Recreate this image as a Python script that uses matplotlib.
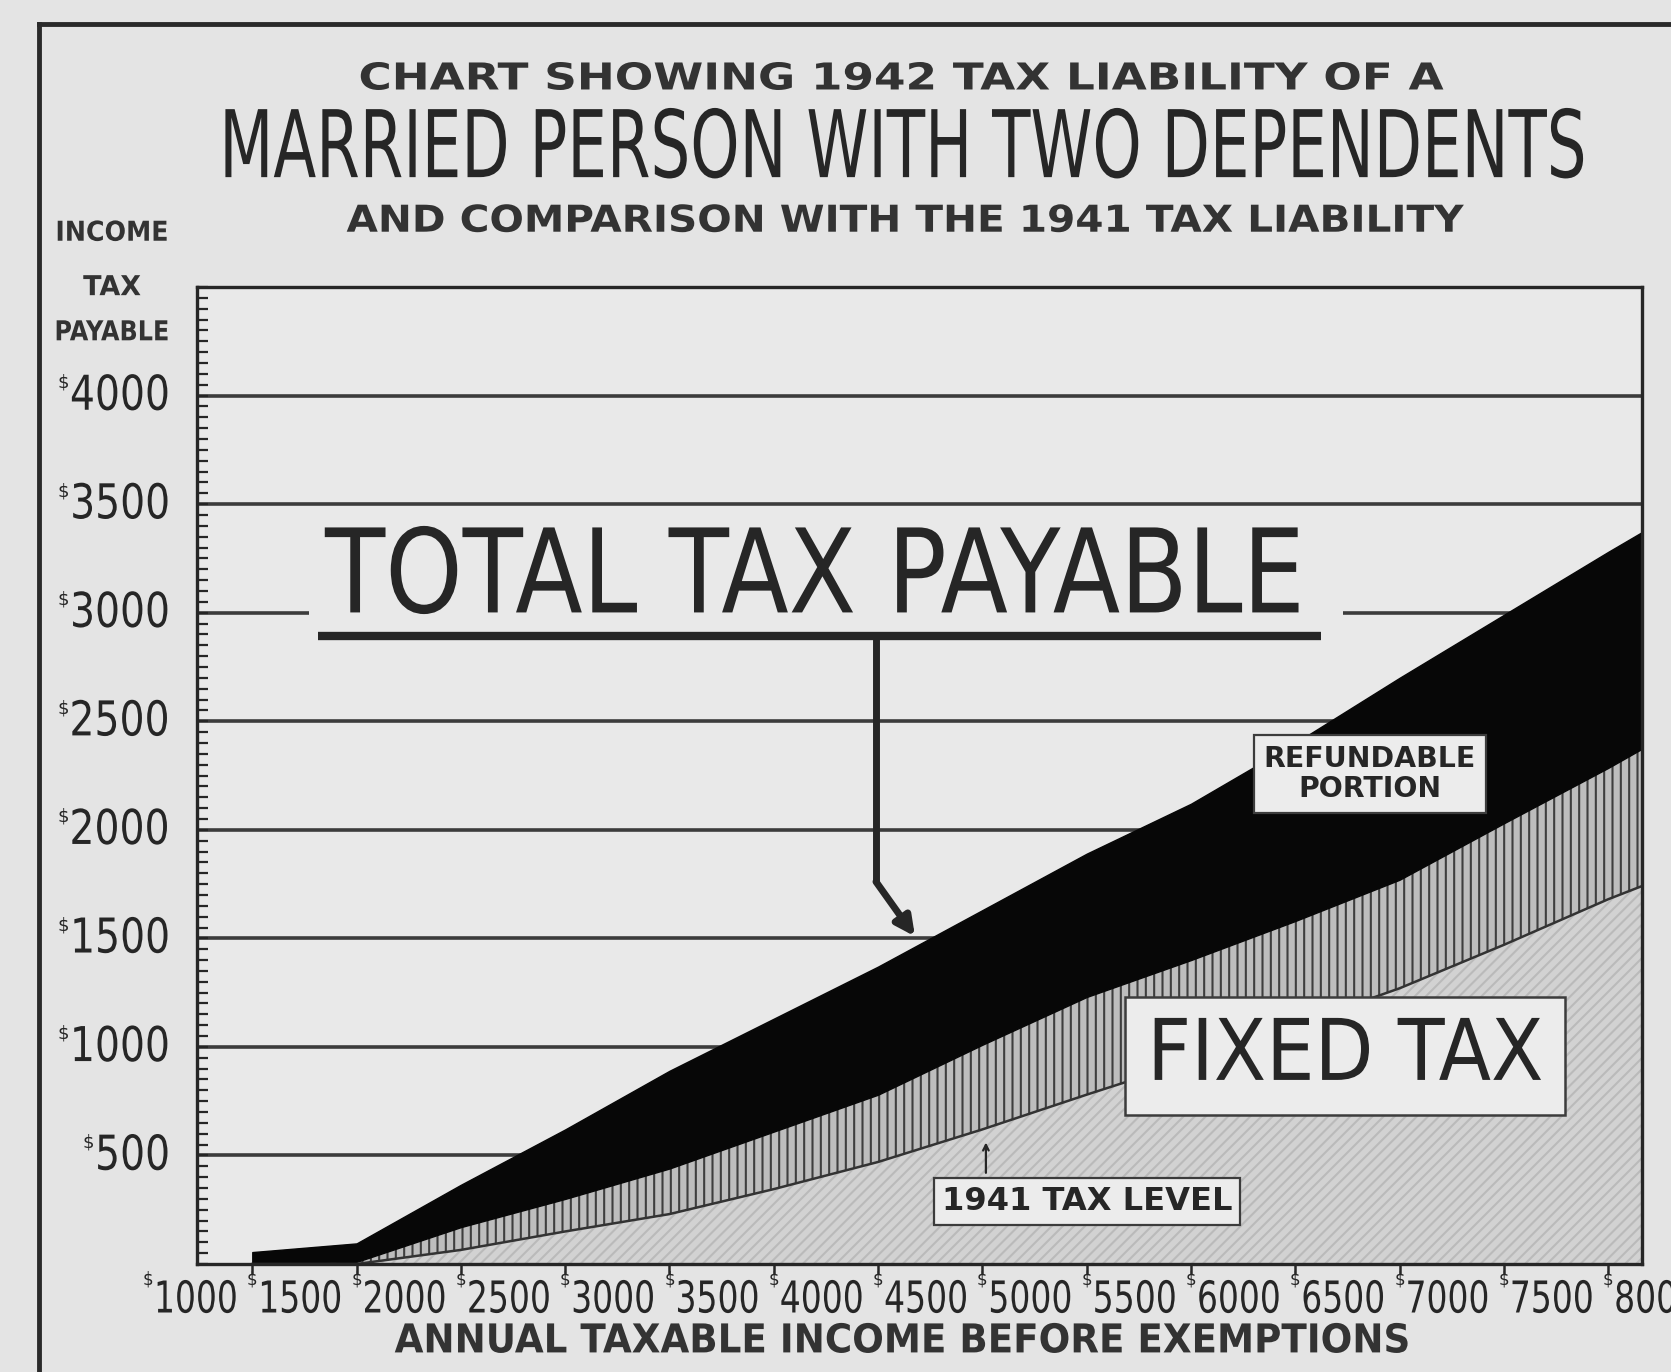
import numpy as np
import matplotlib
matplotlib.use("Agg")
import matplotlib.pyplot as plt
from matplotlib import transforms, patheffects
from matplotlib.lines import Line2D
from matplotlib.patches import Rectangle

# values (dollars)
income = [1500, 2000, 2500, 3000, 3500, 4000, 4500, 5000, 5500, 6000, 6500, 7000, 7500, 8000, 8160]
total_tax = [55, 95, 365, 620, 890, 1130, 1370, 1630, 1890, 2120, 2400, 2700, 2990, 3280, 3370]
fixed_tax = [0, 10, 170, 300, 440, 610, 780, 1010, 1230, 1400, 1580, 1770, 2030, 2285, 2372]
tax_1941 = [0, 0, 65, 150, 230, 345, 470, 620, 780, 935, 1100, 1270, 1470, 1680, 1740]

x_ticks = [1000, 1500, 2000, 2500, 3000, 3500, 4000, 4500, 5000, 5500, 6000, 6500, 7000, 7500, 8000]
x_labels = ["1000", "1500", "2000", "2500", "3000", "3500", "4000", "4500",
            "5000", "5500", "6000", "6500", "7000", "7500", "8000"]
y_ticks = [500, 1000, 1500, 2000, 2500, 3000, 3500, 4000]
y_labels = ["500", "1000", "1500", "2000", "2500", "3000", "3500", "4000"]

BG = "#e4e4e4"
PLOT_BG = "#e9e9e9"
BOX_BG = "#ececec"
INK = "#262626"
FONT = "DejaVu Sans"
PX = 100 / 72  # pixels per point
CAP = 0.729    # cap height of DejaVu Sans, in em


class Tall(patheffects.AbstractPathEffect):
    # stretch glyphs vertically, to get the tall condensed look of the original type
    def __init__(self, sy, anchor="center"):
        super().__init__()
        self.sy = sy
        self.anchor = anchor

    def draw_path(self, renderer, gc, tpath, affine, rgbFace=None):
        ext = tpath.transformed(affine).get_extents()
        cy = ext.y0 if self.anchor == "bottom" else 0.5 * (ext.y0 + ext.y1)
        st = transforms.Affine2D().translate(0, -cy).scale(1, self.sy).translate(0, cy)
        renderer.draw_path(gc, tpath, affine + st, rgbFace)


plt.rcParams["hatch.linewidth"] = 1.5

fig = plt.figure(figsize=(16.71, 13.72), dpi=100, facecolor=BG)
rend = fig.canvas.get_renderer()


def shape(t, width_px, cap_px=None, anchor="center"):
    # font size from the width in the scan, then stretch to its letter height
    w = t.get_window_extent(renderer=rend).width
    t.set_fontsize(t.get_fontsize() * width_px / w)
    if cap_px:
        t.set_path_effects([Tall(cap_px / (t.get_fontsize() * PX * CAP), anchor)])


ax = fig.add_axes([0.1179, 0.0787, 0.8647, 0.7121], facecolor=PLOT_BG)
ax.set_xlim(1235, 8162)
ax.set_ylim(0, 4500)

for s in ax.spines.values():
    s.set_color(INK)
    s.set_linewidth(2.4)

ax.set_axisbelow(True)
ax.set_yticks(y_ticks)
ax.set_yticks(np.arange(0, 4501, 50), minor=True)
ax.set_yticklabels([])
ax.tick_params(axis="y", which="both", direction="in", length=8, width=1.6, color=INK)
ax.set_xticks([t for t in x_ticks if t > 1235])
ax.set_xticklabels([])
ax.tick_params(axis="x", direction="out", length=7, width=1.8, color=INK)
ax.grid(axis="y", which="major", color="#3c3c3c", linewidth=2.6)

# bands
ax.fill_between(income, 0, tax_1941, facecolor="#d2d2d2", hatch="///",
                edgecolor="#bababa", linewidth=0, zorder=1)
ax.fill_between(income, tax_1941, fixed_tax, facecolor="#bdbdbd", hatch="||",
                edgecolor="#3e3e3e", linewidth=0, zorder=1)
ax.fill_between(income, fixed_tax, total_tax, facecolor="#070707",
                edgecolor="#070707", linewidth=1, zorder=2)
ax.plot(income, tax_1941, color="#333333", lw=1.8, zorder=2)

# tick labels, with the small dollar signs
ylab_tr = transforms.blended_transform_factory(fig.transFigure, ax.transData)
for v, lab in zip(y_ticks, y_labels):
    t = ax.text(0.1017, v, lab, transform=ylab_tr, ha="right", va="center",
                fontsize=30, family=FONT, color=INK)
    shape(t, 25 * len(lab), 35)
    ax.annotate("$", xy=(0.1017, v), xycoords=ylab_tr,
                xytext=(-(25 * len(lab) + 7) / PX, 13 / PX), textcoords="offset points",
                ha="center", va="center", fontsize=13, family=FONT, color=INK)

for v, lab in zip(x_ticks, x_labels):
    t = ax.annotate(lab, xy=(v, 0), xytext=(6 / PX, -35 / PX), textcoords="offset points",
                    ha="left", va="center", fontsize=28, family=FONT, color=INK,
                    annotation_clip=False)
    shape(t, 84, 32)
    ax.annotate("$", xy=(v, 0), xytext=(0, -15 / PX), textcoords="offset points",
                ha="center", va="center", fontsize=12, family=FONT, color=INK,
                annotation_clip=False)

# titles
t = fig.text(0.5386, 0.9417, "CHART SHOWING 1942 TAX LIABILITY OF A", ha="center", va="center",
             fontsize=26, fontweight="bold", family=FONT, color="#333333")
shape(t, 1087, 27)
t = fig.text(0.540, 0.8914, "MARRIED PERSON WITH TWO DEPENDENTS", ha="center", va="center",
             fontsize=50, family=FONT, color=INK)
shape(t, 1370, 68)
t = fig.text(0.5416, 0.8382, "AND COMPARISON WITH THE 1941 TAX LIABILITY", ha="center", va="center",
             fontsize=26, fontweight="bold", family=FONT, color="#333333")
shape(t, 1119, 27)
for yy, word, w in zip([0.8302, 0.7901, 0.758], ["INCOME", "TAX", "PAYABLE"], [113, 58, 115]):
    t = fig.text(0.067, yy, word, ha="center", va="center", fontsize=16,
                 fontweight="bold", family=FONT, color="#333333")
    shape(t, w, 20)
t = fig.text(0.540, 0.0226, "ANNUAL TAXABLE INCOME BEFORE EXEMPTIONS", ha="center", va="center",
             fontsize=26, fontweight="bold", family=FONT, color="#333333")
shape(t, 1018, 29)

# big label, with a plain backing that breaks the $3000 rule
ax.add_patch(Rectangle((1772, 2950), 4957, 450, facecolor=PLOT_BG, edgecolor="none", zorder=4))
t = ax.text(4198, 3000, "TOTAL TAX PAYABLE", ha="center", va="baseline", fontsize=70,
            family=FONT, color=INK, zorder=5)
shape(t, 980, 85, anchor="bottom")
ax.plot([1815, 6623], [2894, 2894], color=INK, lw=6, solid_capstyle="butt", zorder=5)
ax.plot([4490, 4490], [2894, 1761], color=INK, lw=5, solid_capstyle="butt", zorder=5)
ax.annotate("", xy=(4677, 1509), xytext=(4490, 1761),
            arrowprops=dict(arrowstyle="-|>", lw=5, color=INK, mutation_scale=28,
                            shrinkA=0, shrinkB=0), zorder=5)

t = ax.text(6858, 2257, "REFUNDABLE\nPORTION", ha="center", va="center", fontsize=17,
            fontweight="bold", family=FONT, color=INK, linespacing=1.1, zorder=5,
            bbox=dict(boxstyle="square,pad=0.35", facecolor=BOX_BG, edgecolor="#3c3c3c", lw=1.6))
shape(t, 212)
t = ax.text(6739, 959, "FIXED TAX", ha="center", va="center", fontsize=54,
            family=FONT, color=INK, zorder=5,
            bbox=dict(boxstyle="square,pad=0.29", facecolor=BOX_BG, edgecolor="#3c3c3c", lw=1.8))
shape(t, 396, 62)
t = ax.text(5502, 289, "1941 TAX LEVEL", ha="center", va="center", fontsize=20,
            fontweight="bold", family=FONT, color=INK, zorder=5,
            bbox=dict(boxstyle="square,pad=0.25", facecolor=BOX_BG, edgecolor="#3c3c3c", lw=1.6))
shape(t, 290)
ax.annotate("", xy=(5017, 560), xytext=(5017, 420),
            arrowprops=dict(arrowstyle="->", lw=1.6, color=INK, shrinkA=0, shrinkB=0), zorder=5)

# outer border of the clipping
fig.add_artist(Line2D([0.0233, 0.0233], [0.0, 0.9825], transform=fig.transFigure,
                      color="#2a2a2a", lw=3.5))
fig.add_artist(Line2D([0.0233, 1.0], [0.9825, 0.9825], transform=fig.transFigure,
                      color="#2a2a2a", lw=3.5))

fig.savefig("out.png", dpi=100, facecolor=BG)
